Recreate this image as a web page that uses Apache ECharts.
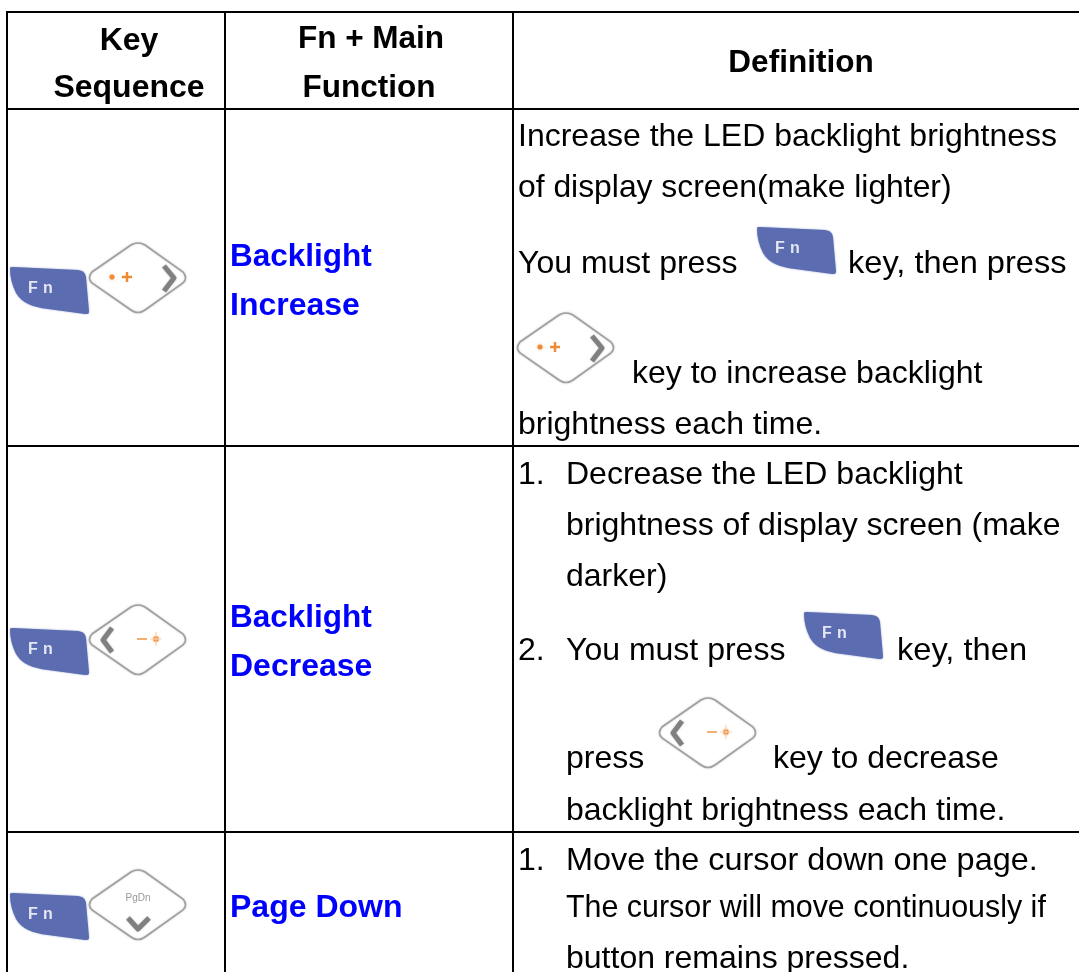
<!DOCTYPE html>
<html><head><meta charset="utf-8">
<style>html,body{margin:0;padding:0;background:#fff}#c{width:1079px;height:972px}</style>
<script src="https://cdn.jsdelivr.net/npm/echarts@6/dist/echarts.min.js"></script>
</head><body><div id="c"></div>
<script>
// Content
var headerKey = ['Key', 'Sequence'];
var headerMain = ['Fn + Main', 'Function'];
var headerDef = ['Definition'];
var functionNames = [['Backlight', 'Increase'], ['Backlight', 'Decrease'], ['Page Down']];
var def1 = ['Increase the LED backlight brightness', 'of display screen(make lighter)', 'You must press', 'key, then press', 'key to increase backlight', 'brightness each time.'];
var def2 = ['1.', 'Decrease the LED backlight', 'brightness of display screen (make', 'darker)', '2.', 'You must press', 'key, then', 'press', 'key to decrease', 'backlight brightness each time.'];
var def3 = ['1.', 'Move the cursor down one page.', 'The cursor will move continuously if', 'button remains pressed.'];

var FONT = '"Liberation Sans", Arial, sans-serif';
var g = [];
function line(x1, y1, x2, y2) {
  g.push({type: 'line', shape: {x1: x1, y1: y1, x2: x2, y2: y2}, style: {stroke: '#000', lineWidth: 2}});
}
function txt(s, x, y, o) {
  o = o || {};
  g.push({type: 'text', x: x, y: y, scaleX: o.sx || 1, style: {text: s, x: 0, y: 0, fill: o.color || '#000',
    font: (o.bold ? 'bold ' : '') + '32px ' + FONT, align: o.align || 'left', verticalAlign: 'middle'}});
}
var FN_PATH = 'M0 2 C0 0 1 0 3 0 L68 3 C74 4 75 6 76 10 L79 44 C79 47 78 47 75 47 L38 42 C22 40 12 36 6 26 C2 18 0 10 0 2 Z';
var DIA_PATH = 'M3 30 L42 3 Q49 -1 56 3 L94 30 Q99 36 94 41 L56 68 Q49 73 42 68 L3 41 Q-2 36 3 30 Z';
echarts.graphic.registerShape('fnKeyShape', echarts.graphic.extendPath(FN_PATH));
echarts.graphic.registerShape('diaKeyShape', echarts.graphic.extendPath(DIA_PATH));
function fnKey(x, y) {
  var f = 'bold 16px ' + FONT;
  g.push({type: 'group', x: x, y: y, children: [
    {type: 'fnKeyShape', style: {fill: '#5c6cb0', shadowColor: 'rgba(92,108,176,0.6)', shadowBlur: 2}},
    {type: 'text', x: 18, y: 14, style: {text: 'F', fill: '#e4e7f3', font: f}},
    {type: 'text', x: 33, y: 14, style: {text: 'n', fill: '#e4e7f3', font: f}}
  ]});
}
function diaKey(x, y, kind) {
  var kids = [{type: 'diaKeyShape', style: {fill: '#fff', stroke: '#a0a0a0', lineWidth: 1.6, shadowColor: 'rgba(160,160,160,0.5)', shadowBlur: 2}}];
  function chev(pts, w) {
    kids.push({type: 'polyline', shape: {points: pts}, style: {fill: 'none', stroke: '#808080', lineWidth: w || 5, lineJoin: 'round', shadowColor: 'rgba(128,128,128,0.5)', shadowBlur: 2}});
  }
  function dot(cx, cy, r) {
    kids.push({type: 'circle', shape: {cx: cx, cy: cy, r: r}, style: {fill: '#ef8a35', shadowColor: 'rgba(239,138,53,0.6)', shadowBlur: 3}});
  }
  function bar(x1, y1, x2, y2, c, w) {
    kids.push({type: 'line', shape: {x1: x1, y1: y1, x2: x2, y2: y2}, style: {stroke: c, lineWidth: w}});
  }
  if (kind === 'up') {
    chev([[75, 24], [85, 36], [75, 49]]);
    dot(23, 35, 2.5);
    bar(33, 35, 43, 35, '#ef8a35', 2.5);
    bar(38, 30, 38, 40, '#ef8a35', 2.5);
  } else if (kind === 'down') {
    chev([[23, 24], [14, 36], [23, 48]]);
    bar(48, 35, 58, 35, '#f0b070', 2);
    dot(67, 35, 2.8);
    bar(67, 28, 67, 42, '#f3c9a0', 1);
    bar(61, 35, 73, 35, '#f8dcc0', 1);
  } else {
    kids.push({type: 'text', x: 49, y: 29, style: {text: 'PgDn', fill: '#999', font: '10px ' + FONT, align: 'center', verticalAlign: 'middle'}});
    chev([[39, 49], [49, 60], [60, 49]]);
  }
  g.push({type: 'group', x: x, y: y, children: kids});
}

// Table rules
[12, 109, 446, 832].forEach(function (y) { line(6, y, 1079, y); });
[7, 225, 513].forEach(function (x) { line(x, 11, x, 972); });

// Header
txt(headerKey[0], 129, 41, {bold: true, align: 'center'});
txt(headerKey[1], 129, 88, {bold: true, align: 'center'});
txt(headerMain[0], 371, 39, {bold: true, align: 'center', sx: 0.985});
txt(headerMain[1], 369, 88, {bold: true, align: 'center', sx: 0.985});
txt(headerDef[0], 801, 63, {bold: true, align: 'center', sx: 0.985});

// Function names
var BLUE = '#0000ff';
txt(functionNames[0][0], 230, 257, {bold: true, color: BLUE, sx: 0.985});
txt(functionNames[0][1], 230, 306, {bold: true, color: BLUE});
txt(functionNames[1][0], 230, 618, {bold: true, color: BLUE, sx: 0.985});
txt(functionNames[1][1], 230, 667, {bold: true, color: BLUE});
txt(functionNames[2][0], 230, 908, {bold: true, color: BLUE});

// Definitions
txt(def1[0], 518, 137); txt(def1[1], 518, 188, {sx: 0.995});
txt(def1[2], 518, 264); txt(def1[3], 848, 264, {sx: 1.018});
txt(def1[4], 632, 374); txt(def1[5], 518, 425);
txt(def2[0], 518, 475); txt(def2[1], 566, 475);
txt(def2[2], 566, 526); txt(def2[3], 566, 577);
txt(def2[4], 518, 651); txt(def2[5], 566, 651); txt(def2[6], 897, 651, {sx: 1.02});
txt(def2[7], 566, 759); txt(def2[8], 773, 759);
txt(def2[9], 566, 811);
txt(def3[0], 518, 861); txt(def3[1], 566, 861, {sx: 1.012});
txt(def3[2], 566, 908, {sx: 0.95}); txt(def3[3], 566, 959);

// Key icons
fnKey(10, 267); diaKey(89, 242, 'up');
fnKey(10, 628); diaKey(89, 604, 'down');
fnKey(10, 893); diaKey(89, 869, 'pg');
fnKey(757, 227); diaKey(517, 312, 'up');
fnKey(804, 612); diaKey(659, 697, 'down');

var chart = echarts.init(document.getElementById('c'), null, {renderer: 'canvas'});
chart.setOption({animation: false, backgroundColor: '#fff', graphic: {elements: g}});
</script></body></html>
